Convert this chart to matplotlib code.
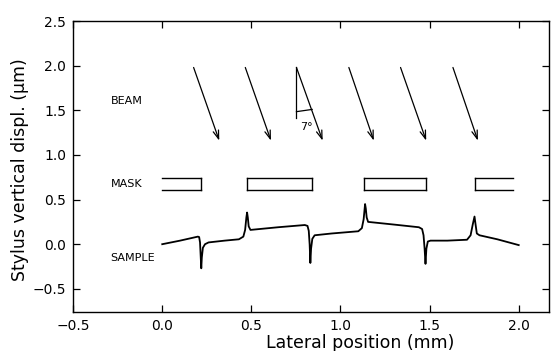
import matplotlib
matplotlib.use("Agg")
import matplotlib.pyplot as plt

# Sample profile (mm, um)
sample_x = [0.0, 0.10, 0.200, 0.207, 0.212, 0.216, 0.219, 0.222, 0.228, 0.240, 0.26, 0.35, 0.43,
            0.455, 0.465, 0.472, 0.476, 0.480, 0.485, 0.495, 0.52, 0.65, 0.80,
            0.815, 0.822, 0.827, 0.831, 0.835, 0.842, 0.855, 0.95, 1.10,
            1.12, 1.13, 1.138, 1.142, 1.147, 1.155, 1.30, 1.44,
            1.458, 1.466, 1.472, 1.477, 1.482, 1.490, 1.505, 1.60, 1.71,
            1.73, 1.742, 1.752, 1.758, 1.765, 1.78, 1.88, 2.0]
sample_y = [0.0, 0.04, 0.085, 0.08, 0.02, -0.15, -0.27, -0.15, -0.04, 0.0, 0.02, 0.04, 0.055,
            0.085, 0.16, 0.30, 0.355, 0.30, 0.20, 0.16, 0.165, 0.19, 0.215,
            0.205, 0.15, 0.0, -0.21, -0.05, 0.06, 0.10, 0.12, 0.145,
            0.18, 0.28, 0.45, 0.40, 0.30, 0.25, 0.22, 0.19,
            0.17, 0.10, -0.05, -0.22, -0.05, 0.03, 0.04, 0.04, 0.05,
            0.10, 0.22, 0.31, 0.22, 0.12, 0.10, 0.055, -0.01]

# Mask bars
mask_left = [0.0, 0.476, 1.131, 1.753]
mask_right = [0.219, 0.841, 1.478, 1.97]
mask_bottom = 0.61
mask_top = 0.74

# Beam arrows
beam_x0 = [0.176, 0.466, 0.753, 1.047, 1.337, 1.631]
beam_x1 = [0.320, 0.610, 0.900, 1.187, 1.481, 1.771]
beam_y0 = 1.98
beam_y1 = 1.16

xticks = [-0.5, 0.0, 0.5, 1.0, 1.5, 2.0]
yticks = [-0.5, 0.0, 0.5, 1.0, 1.5, 2.0, 2.5]

fig = plt.figure(figsize=(5.54, 3.51), dpi=100)
ax = fig.add_axes([0.132, 0.111, 0.859, 0.829])

ax.plot(sample_x, sample_y, color="black", lw=1.3)

n = len(mask_left)
for i in range(n):
    l, r = mask_left[i], mask_right[i]
    ax.plot([l, r], [mask_top, mask_top], color="black", lw=1.0)
    ax.plot([l, r], [mask_bottom, mask_bottom], color="black", lw=1.0)
    if i != 0:
        ax.plot([l, l], [mask_bottom, mask_top], color="black", lw=1.0)
    if i != n - 1:
        ax.plot([r, r], [mask_bottom, mask_top], color="black", lw=1.0)

for a, b in zip(beam_x0, beam_x1):
    ax.annotate("", xy=(b, beam_y1), xytext=(a, beam_y0),
                arrowprops=dict(arrowstyle="->,head_length=0.6,head_width=0.2",
                                color="black", lw=0.9, shrinkA=0, shrinkB=0))

# angle indicator on third arrow
ax.plot([beam_x0[2], beam_x0[2]], [beam_y0, 1.41], color="black", lw=0.9)
ax.plot([beam_x0[2], 0.841], [1.485, 1.51], color="black", lw=0.9)
ax.text(0.81, 1.31, "7°", fontsize=8, ha="center", va="center")

ax.text(-0.29, 1.60, "BEAM", fontsize=8, ha="left", va="center")
ax.text(-0.29, 0.67, "MASK", fontsize=8, ha="left", va="center")
ax.text(-0.29, -0.16, "SAMPLE", fontsize=8, ha="left", va="center")

ax.set_xlim(-0.5, 2.17)
ax.set_ylim(-0.76, 2.5)
ax.set_xticks(xticks)
ax.set_yticks(yticks)
ax.set_xticklabels([f"{t:.1f}".replace("-", "\u2212") for t in xticks])
ax.set_yticklabels([f"{t:.1f}".replace("-", "\u2212") for t in yticks])
ax.tick_params(direction="in", length=5, width=0.9, top=True, right=True,
               labelsize=10, pad=5)
for s in ax.spines.values():
    s.set_linewidth(1.0)

ax.set_xlabel("Lateral position (mm)", fontsize=12.5, va="center")
ax.xaxis.set_label_coords(0.603, -0.107)
ax.set_ylabel("Stylus vertical displ. (\u03bcm)", fontsize=12.5, va="center")
ax.yaxis.set_label_coords(-0.111, 0.488)

fig.savefig("out.png", dpi=100)
